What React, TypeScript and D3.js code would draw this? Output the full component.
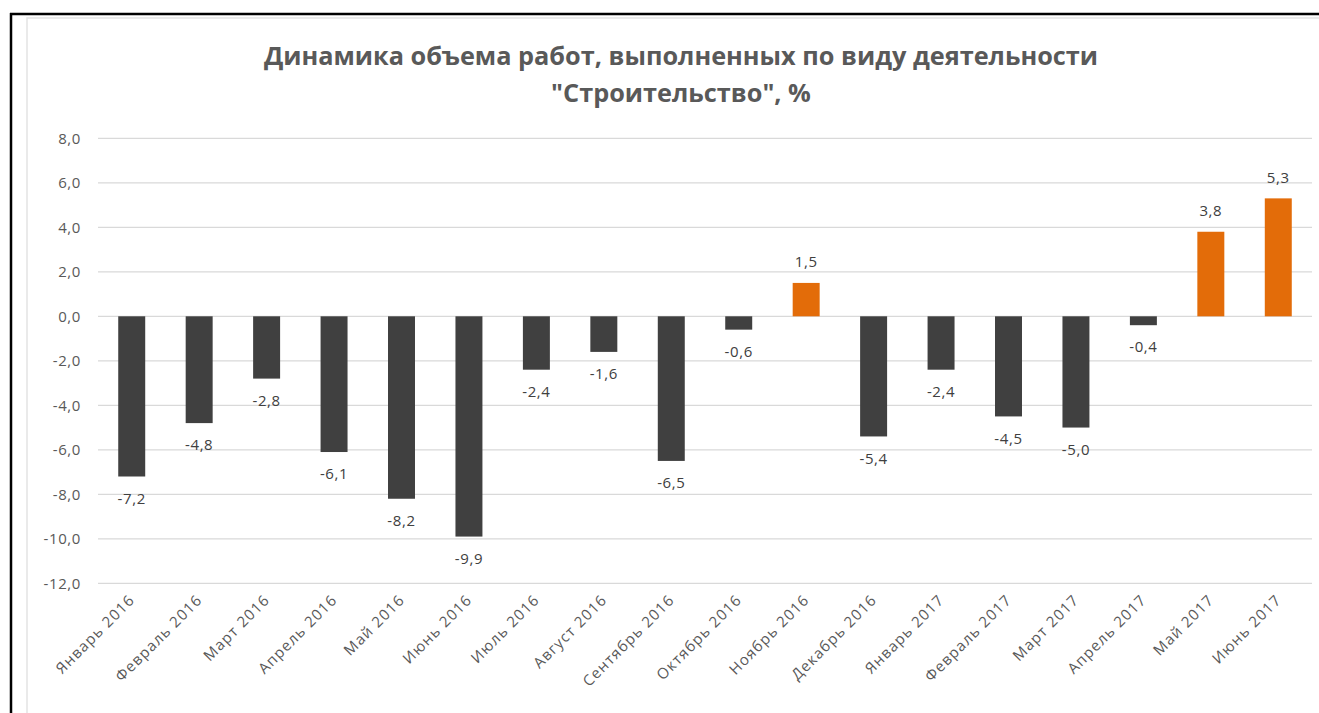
import React from 'react'
import * as d3 from 'd3'

const months = [
  'Январь 2016', 'Февраль 2016', 'Март 2016', 'Апрель 2016', 'Май 2016', 'Июнь 2016',
  'Июль 2016', 'Август 2016', 'Сентябрь 2016', 'Октябрь 2016', 'Ноябрь 2016', 'Декабрь 2016',
  'Январь 2017', 'Февраль 2017', 'Март 2017', 'Апрель 2017', 'Май 2017', 'Июнь 2017',
]
const values = [-7.2, -4.8, -2.8, -6.1, -8.2, -9.9, -2.4, -1.6, -6.5, -0.6, 1.5, -5.4, -2.4, -4.5, -5.0, -0.4, 3.8, 5.3]
const yTicks = [8, 6, 4, 2, 0, -2, -4, -6, -8, -10, -12]
const titleLines = ['Динамика объема работ, выполненных по виду деятельности', '"Строительство", %']

const W = 1319
const H = 713
const font = '"Open Sans", Lato, sans-serif'
const fmt = (v: number) => v.toFixed(1).replace('.', ',')

export default function App() {
  const x = d3.scaleBand<string>()
    .domain(months)
    .range([98, 1312])
    .paddingInner(0.6)
    .paddingOuter(0.3)
  const y = d3.scaleLinear().domain([-12, 8]).range([583.3, 138.3])

  return (
    <div style={{ position: 'absolute', left: 0, top: 0 }}>
      <svg width={W} height={H} style={{ display: 'block', background: '#fff' }}>
        {/* outer frame */}
        <rect x={27} y={18} width={W} height={H} fill="none" stroke="#e3e3e3" strokeWidth={1.5} />
        <line x1={10} x2={W} y1={14} y2={14} stroke="#000" strokeWidth={2.5} />
        <line x1={11} x2={11} y1={13} y2={H} stroke="#000" strokeWidth={2.5} />

        {titleLines.map((t, i) => (
          <text key={i} x={681} y={65 + i * 37} textAnchor="middle" fontFamily={font}
            fontWeight="bold" fontSize={25.3} fill="#595959">{t}</text>
        ))}

        {yTicks.map(t => (
          <g key={t}>
            <line x1={98} x2={1312} y1={y(t)} y2={y(t)} stroke="#d9d9d9" strokeWidth={1.2} />
            <text x={81} y={y(t)} dy="0.35em" textAnchor="end" fontFamily={font}
              fontSize={15} letterSpacing={0.6} fill="#595959">{fmt(t)}</text>
          </g>
        ))}

        {months.map((m, i) => {
          const v = values[i]
          const bx = x(m)!
          const pos = v >= 0
          const top = y(Math.max(0, v))
          const bottom = y(Math.min(0, v))
          const cx = bx + x.bandwidth() / 2
          return (
            <g key={m}>
              <rect x={bx} y={top} width={x.bandwidth()} height={bottom - top}
                fill={pos ? '#e36c09' : '#404040'} />
              <text x={cx} y={pos ? top - 21 : bottom + 22} dy="0.35em" textAnchor="middle"
                fontFamily={font} fontSize={15} letterSpacing={0.6} fill="#404040">{fmt(v)}</text>
              <text transform={`translate(${cx + 4},${601}) rotate(-45)`} textAnchor="end"
                fontFamily={font} fontSize={15} letterSpacing={1.1} fill="#595959">{m}</text>
            </g>
          )
        })}
      </svg>
    </div>
  )
}
